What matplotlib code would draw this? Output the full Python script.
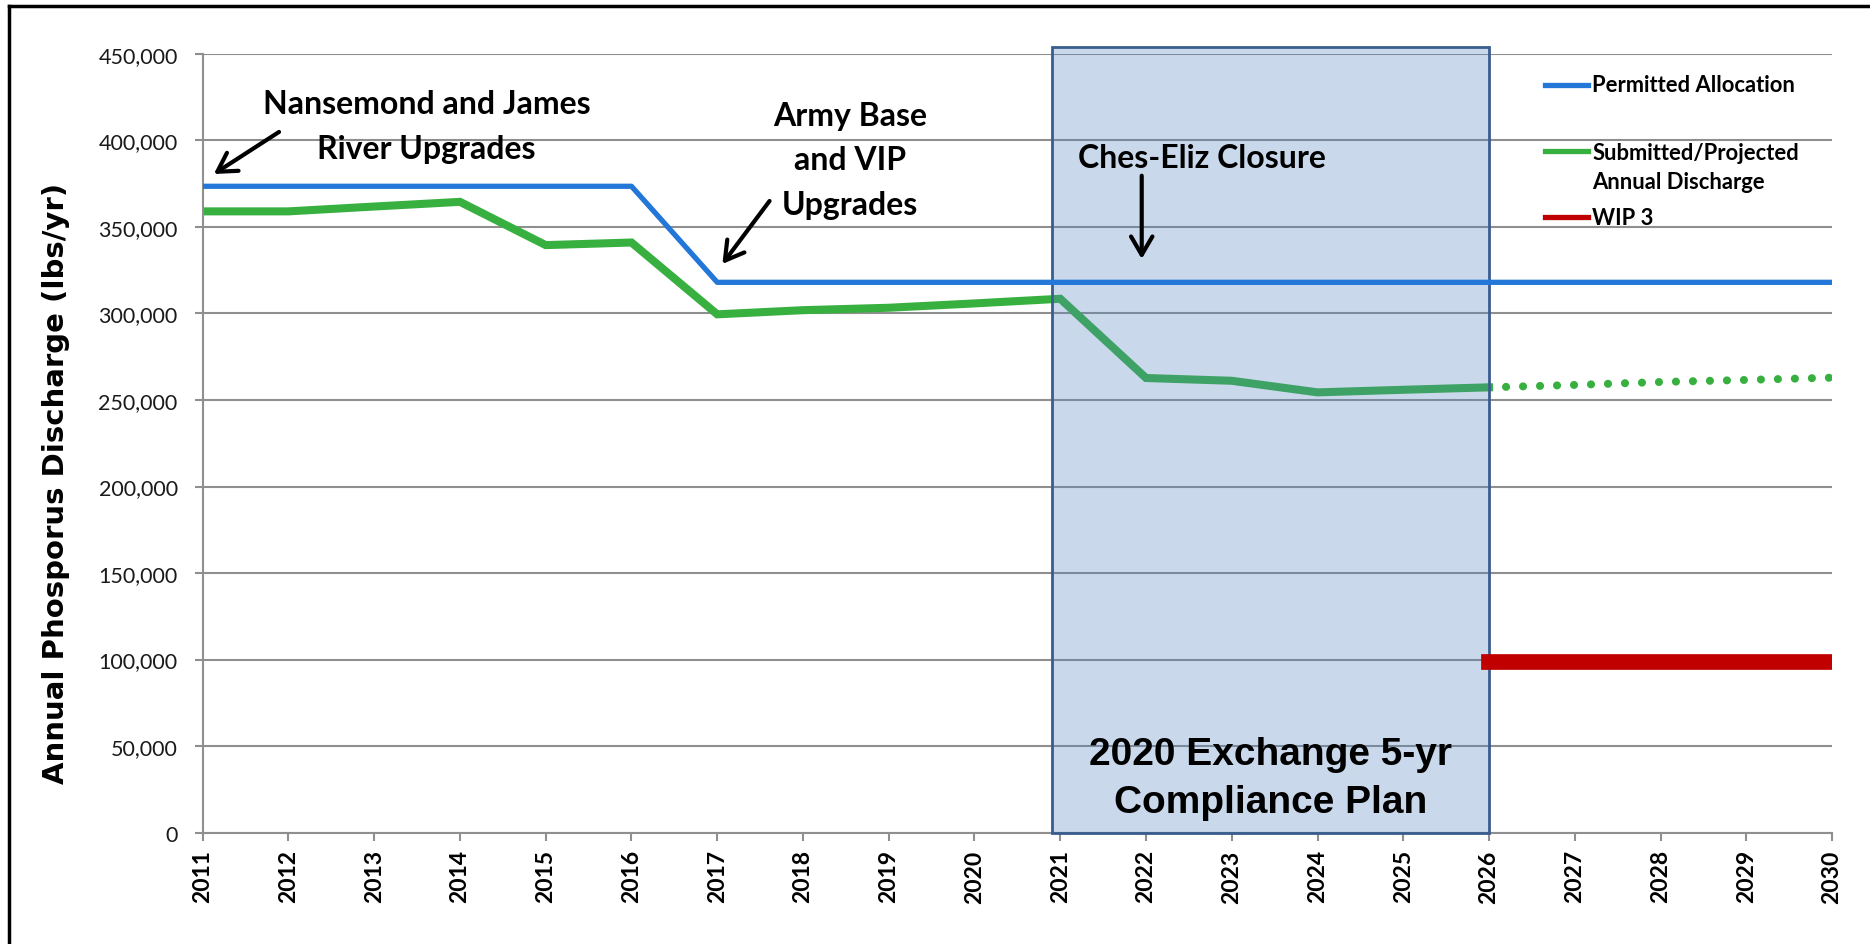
import numpy as np
import matplotlib
matplotlib.use("Agg")
import matplotlib.pyplot as plt
from matplotlib.patches import Rectangle
from matplotlib.lines import Line2D

# data
years = [2011, 2012, 2013, 2014, 2015, 2016, 2017, 2018, 2019, 2020,
         2021, 2022, 2023, 2024, 2025, 2026, 2027, 2028, 2029, 2030]
permitted = [373500, 373500, 373500, 373500, 373500, 373500, 318000, 318000, 318000, 318000,
             318000, 318000, 318000, 318000, 318000, 318000, 318000, 318000, 318000, 318000]
sub_years = [2011, 2012, 2013, 2014, 2015, 2016, 2017, 2018, 2019, 2020,
             2021, 2022, 2023, 2024, 2025, 2026]
submitted = [359000, 359000, 361800, 364500, 339500, 341000, 299500, 301900, 303300, 305800,
             308500, 262700, 261100, 254400, 255900, 257300]
proj_years = [2026, 2027, 2028, 2029, 2030]
projected = [257300, 258700, 260400, 261600, 262900]
wip_years = [2026, 2030]
wip3 = [98500, 98500]
yticks = [0, 50000, 100000, 150000, 200000, 250000, 300000, 350000, 400000, 450000]
plan_start, plan_end, plan_top = 2020.9, 2026, 454000

blue = "#2277d8"
green = "#37b03f"
red = "#c00000"

fig = plt.figure(figsize=(18.7, 9.45), dpi=100)
ax = fig.add_axes([0.1084, 0.1179, 0.8713, 0.8240])

ax.set_xlim(2011, 2030)
ax.set_ylim(0, 450000)
ax.set_yticks(yticks)
ax.set_yticklabels(["{:,}".format(v) for v in yticks], family="Lato", fontsize=15.5,
                   color="#1a1a1a")
ax.set_xticks(years)
ax.set_xticklabels([str(y) for y in years], rotation=90, family="Lato",
                   fontweight="bold", fontsize=16.5)
ax.grid(axis="y", color="#8f8f8f", lw=1.5, zorder=0.5)
ax.set_axisbelow(True)
for s in ["top", "right"]:
    ax.spines[s].set_visible(False)
for s in ["left", "bottom"]:
    ax.spines[s].set_color("#8f8f8f")
    ax.spines[s].set_linewidth(1.5)
ax.tick_params(axis="y", length=6, width=1.5, color="#8f8f8f", pad=12)
ax.tick_params(axis="x", length=6, width=1.5, color="#8f8f8f", pad=6)

# series
ax.plot(sub_years, submitted, color=green, lw=5.8, zorder=2, solid_joinstyle="miter")
ax.plot(proj_years, projected, color=green, lw=5.8, ls=(0, (0.01, 2.1)),
        dash_capstyle="round", zorder=2)
plan = Rectangle((plan_start, 0), plan_end - plan_start, plan_top,
                 facecolor=(79/255, 129/255, 189/255, 0.3), edgecolor="#3a5d8f",
                 lw=2, zorder=3, clip_on=False)
ax.add_patch(plan)
ax.plot(years, permitted, color=blue, lw=3.8, zorder=4)
ax.plot(wip_years, wip3, color=red, lw=11.3, solid_capstyle="projecting", zorder=4)

ax.text((plan_start + plan_end) / 2, 31500, "2020 Exchange 5-yr\nCompliance Plan",
        ha="center", va="center", family="Liberation Sans", fontweight="bold",
        fontsize=28, linespacing=1.42, zorder=6)

# annotations
ann = dict(ha="center", va="center", family="Lato", fontweight="bold",
           fontsize=23, linespacing=1.65, zorder=6)
arw = dict(arrowstyle="->,head_length=0.6,head_width=0.35", lw=3, color="black",
           shrinkA=0, shrinkB=0, mutation_scale=22)
ax.text(2013.61, 408500, "Nansemond and James\nRiver Upgrades", **ann)
ax.annotate("", xy=(2011.13, 380600), xytext=(2011.89, 404900), arrowprops=arw, zorder=6)
ax.text(2018.55, 388700, "Army Base\nand VIP\nUpgrades", **ann)
ax.annotate("", xy=(2017.06, 328600), xytext=(2017.61, 365000), arrowprops=arw, zorder=6)
ax.text(2022.65, 390400, "Ches-Eliz Closure", **ann)
ax.annotate("", xy=(2021.95, 331500), xytext=(2021.95, 379600), arrowprops=arw, zorder=6)

# legend drawn by hand (Excel-style spacing): label, colour, key y, text y
leg = [("Permitted Allocation", blue, 0.9605, 0.9605),
       ("Submitted/Projected\nAnnual Discharge", green, 0.8757, 0.8550),
       ("WIP 3", red, 0.7905, 0.7905)]
for label, c, yy, ty in leg:
    ax.add_line(Line2D([0.8238, 0.8502], [yy, yy], color=c, lw=3.8,
                       transform=ax.transAxes, clip_on=False))
    ax.text(0.8527, ty, label, transform=ax.transAxes, va="center", ha="left",
            family="Lato", fontweight="bold", fontsize=15.8, linespacing=1.5)

fig.text(56 / 1870, 1 - 483 / 945, "Annual Phosporus Discharge (lbs/yr)", rotation=90,
         ha="center", va="center", family="DejaVu Sans", fontweight="bold", fontsize=21)

# outer frame (top and left edges)
fig.add_artist(Line2D([8.5 / 1870, 1], [1 - 7 / 945, 1 - 7 / 945], color="black", lw=2.5))
fig.add_artist(Line2D([8.5 / 1870, 8.5 / 1870], [0, 1 - 7 / 945], color="black", lw=2.5))

fig.savefig("out.png", dpi=100)
